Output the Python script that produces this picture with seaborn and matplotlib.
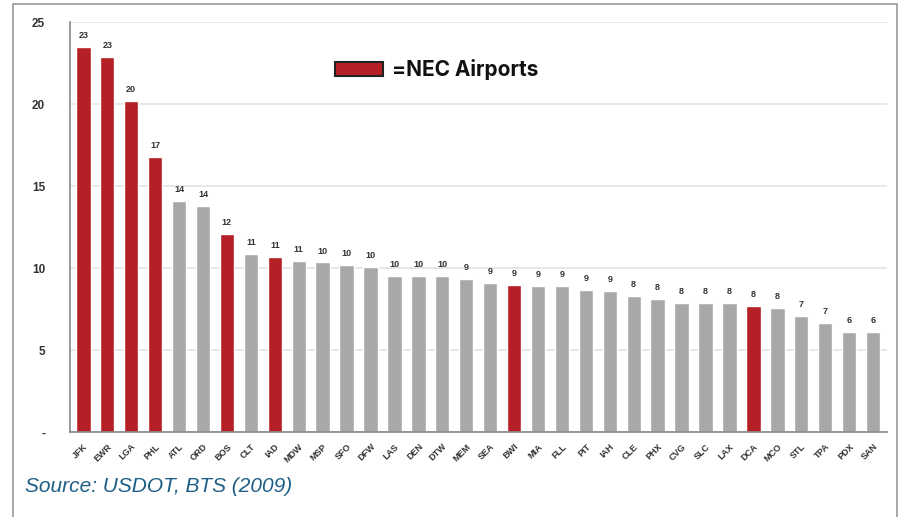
import numpy as np
import pandas as pd
import matplotlib
matplotlib.use("Agg")
import matplotlib.pyplot as plt
import seaborn as sns
from matplotlib.patches import Rectangle

# ==========================================================
# DATA
# ==========================================================

airports = [
    "JFK", "EWR", "LGA", "PHL", "ATL", "ORD", "BOS", "CLT", "IAD", "MDW",
    "MSP", "SFO", "DFW", "LAS", "DEN", "DTW", "MEM", "SEA", "BWI", "MIA",
    "FLL", "PIT", "IAH", "CLE", "PHX", "CVG", "SLC", "LAX", "DCA", "MCO",
    "STL", "TPA", "PDX", "SAN"
]

values = [
    23.5, 22.9, 20.2, 16.8, 14.1, 13.8, 12.1, 10.85, 10.7, 10.45,
    10.35, 10.2, 10.1, 9.55, 9.55, 9.55, 9.35, 9.1, 8.98, 8.9,
    8.9, 8.65, 8.6, 8.3, 8.1, 7.87, 7.87, 7.87, 7.68, 7.6,
    7.07, 6.65, 6.1, 6.1
]

bar_labels = [
    "23", "23", "20", "17", "14", "14", "12", "11", "11", "11",
    "10", "10", "10", "10", "10", "10", "9", "9", "9", "9",
    "9", "9", "9", "8", "8", "8", "8", "8", "8", "8",
    "7", "7", "6", "6"
]

nec_airports = ["JFK", "EWR", "LGA", "PHL", "BOS", "IAD", "BWI", "DCA"]

y_ticks = [0, 5, 10, 15, 20, 25]
y_tick_labels = ["-", "5", "10", "15", "20", "25"]

RED = "#b52026"
GRAY = "#a8a8a8"

df = pd.DataFrame({"Airport": airports, "Value": values})
df["Group"] = np.where(df["Airport"].isin(nec_airports), "NEC", "Other")

# ==========================================================
# PLOT
# ==========================================================

sns.set_style("white")
plt.rcParams["font.family"] = ["Liberation Sans", "DejaVu Sans"]

fig = plt.figure(figsize=(9, 5.17), dpi=100)
ax = fig.add_axes([0.078, 0.164, 0.908, 0.793])

sns.barplot(
    data=df,
    x="Airport",
    y="Value",
    hue="Group",
    palette={"NEC": RED, "Other": GRAY},
    saturation=1,
    dodge=False,
    width=0.6,
    legend=False,
    ax=ax
)

for container in ax.containers:
    labs = [bar_labels[int(round(b.get_x() + b.get_width() / 2))] for b in container]
    ax.bar_label(container, labels=labs, padding=5, fontsize=6.5,
                 fontweight="bold", color="#333333")

ax.set_xlim(-0.55, 33.6)
ax.set_ylim(0, 25)
ax.set_yticks(y_ticks)
ax.set_yticklabels(y_tick_labels, fontsize=8.5, fontweight="bold", color="#333333")

ax.set_xticks(range(len(airports)))
ax.set_xticklabels(airports, rotation=45, ha="right", rotation_mode="anchor",
                   fontsize=6.5, fontweight="bold", color="#333333")
ax.tick_params(axis="x", length=0, pad=7)
ax.set_xticks(np.arange(-0.5, len(airports), 1), minor=True)
ax.tick_params(axis="x", which="minor", length=4, color="#777777", width=0.8)
ax.tick_params(axis="y", length=4, color="#777777", width=0.8, pad=14)

ax.set_xlabel("")
ax.set_ylabel("")
ax.yaxis.grid(True, color="#e3e3e3", linewidth=1.2)
ax.set_axisbelow(True)

for side in ["top", "right"]:
    ax.spines[side].set_visible(False)
ax.spines["left"].set_color("#888888")
ax.spines["bottom"].set_color("#888888")
ax.spines["left"].set_linewidth(1.2)
ax.spines["bottom"].set_linewidth(1.2)

# legend-like key
fig.patches.append(Rectangle((335 / 900, 1 - 76 / 517), 48 / 900, 14 / 517,
                             transform=fig.transFigure, facecolor=RED,
                             edgecolor="#222222", linewidth=1.5))
fig.text(392 / 900, 1 - 69 / 517, "=NEC Airports", fontsize=15,
         fontweight="bold", va="center", ha="left", color="#111111",
         family=["Inter", "DejaVu Sans"])

# source
fig.text(25 / 900, 1 - 486 / 517, "Source: USDOT, BTS (2009)", fontsize=15,
         fontstyle="italic", va="center", ha="left", color="#1d5f86")

# frame
fig.patches.append(Rectangle((13 / 900, -0.1), 884 / 900, 1.1 - 4 / 517,
                             transform=fig.transFigure, facecolor="none",
                             edgecolor="#9a9a9a", linewidth=1.2))

fig.savefig("out.png", dpi=100)
plt.close(fig)
